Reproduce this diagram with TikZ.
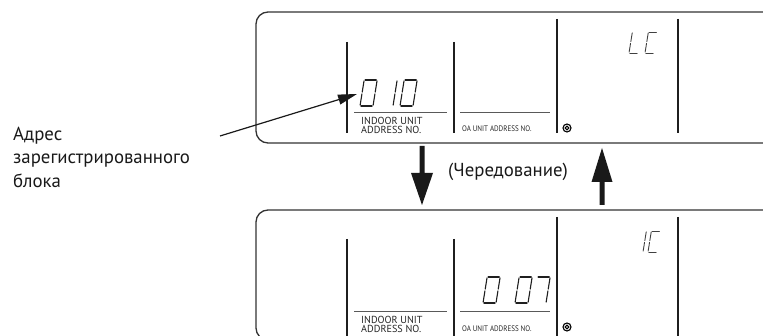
\documentclass[tikz,border=0pt]{standalone}
\usepackage{fontspec}
\setmainfont{PT Sans}
\usepackage{graphicx}
\usetikzlibrary{arrows.meta}
\newcommand\gp{0.9}
\newcommand\sgA{\draw[segsty] (\gp,\dh) -- (\dw-\gp,\dh);}
\newcommand\sgB{\draw[segsty] (\dw,\dh-\gp) -- (\dw,\dh/2+\gp);}
\newcommand\sgC{\draw[segsty] (\dw,\dh/2-\gp) -- (\dw,\gp);}
\newcommand\sgD{\draw[segsty] (\gp,0) -- (\dw-\gp,0);}
\newcommand\sgE{\draw[segsty] (0,\gp) -- (0,\dh/2-\gp);}
\newcommand\sgF{\draw[segsty] (0,\dh/2+\gp) -- (0,\dh-\gp);}
\newcommand\sevseg[6][seg]{%
  \begin{scope}[shift={(#2,#3)},y=1pt,xslant=0.16,segsty/.style={#1}]
    \def\dw{#4}\def\dh{#5}%
    \foreach \s in {#6}{\csname sg\s\endcsname}%
  \end{scope}}
\begin{document}
\begin{tikzpicture}[x=1pt,y=-1pt,
  frame/.style={draw=black!80,line width=1.3pt,rounded corners=12pt},
  divider/.style={draw=black!88,line width=1.4pt},
  uline/.style={draw=black!65,line width=1pt},
  seg/.style={draw=black!88,line width=1.1pt,line cap=round},
  segthin/.style={draw=black!75,line width=0.9pt,line cap=round},
  bigarrow/.style={fill=black!90,draw=none},
  unitlbl/.style={inner sep=0pt,anchor=base west,font=\fontsize{10.2}{10}\selectfont,text=black!85},
  oalbl/.style={inner sep=0pt,anchor=base west,text=black!85},
  mainlbl/.style={inner sep=0pt,font=\fontsize{18.8}{23.5}\selectfont,text=black!90}]
\useasboundingbox (0,0) rectangle (763,336);
\clip (0,0) rectangle (763,336);
% ---------- top panel ----------
\draw[frame] (256,12) rectangle (800,143);
\draw[divider] (347,42) -- (347,133);
\draw[divider] (454,42) -- (454,133);
\draw[divider] (557,19) -- (557,133);
\draw[divider] (678,19) -- (678,133);
\draw[uline] (354,112.5) -- (447,112.5);
\draw[uline] (460,112.5) -- (550,112.5);
\node[unitlbl] (in1a) at (361,124.3) {INDOOR UNIT};
\node[unitlbl] (in1b) at (361,134) {ADDRESS NO.};
\node[oalbl] (oa1) at (462,132) {\scalebox{0.88}[1]{\fontsize{8}{8}\selectfont OA UNIT ADDRESS NO.}};
\draw[line width=1.1pt] (567,128) circle[radius=4pt];
\draw[line width=1.1pt] (567,128) circle[radius=1.9pt];
\sevseg{360}{106}{13}{26}{A,B,C,D,E,F}
\sevseg{380}{106}{13}{26}{B,C}
\sevseg{400}{106}{13}{26}{A,B,C,D,E,F}
\sevseg[segthin]{629}{53}{9}{21}{D,E,F}
\sevseg[segthin]{645}{53}{9}{21}{A,D,E,F}
% ---------- bottom panel ----------
\draw[frame] (256,210) rectangle (800,340);
\draw[divider] (347,239) -- (347,340);
\draw[divider] (454,239) -- (454,340);
\draw[divider] (557,217) -- (557,340);
\draw[divider] (678,217) -- (678,340);
\draw[uline] (354,311.5) -- (447,311.5);
\draw[uline] (460,311.5) -- (550,311.5);
\node[unitlbl] (in2a) at (361,323.3) {INDOOR UNIT};
\node[unitlbl] (in2b) at (361,333) {ADDRESS NO.};
\node[oalbl] (oa2) at (462,332) {\scalebox{0.88}[1]{\fontsize{8}{8}\selectfont OA UNIT ADDRESS NO.}};
\draw[line width=1.1pt] (567,327) circle[radius=4pt];
\draw[line width=1.1pt] (567,327) circle[radius=1.9pt];
\sevseg{483}{303}{13}{26}{A,B,C,D,E,F}
\sevseg{515}{303}{13}{26}{A,B,C,D,E,F}
\sevseg{533}{303}{13}{26}{A,B,C}
\sevseg[segthin]{634}{252}{9}{21}{B,C}
\sevseg[segthin]{648}{252}{9}{21}{A,D,E,F}
% ---------- alternation arrows ----------
\fill[bigarrow] (419.5,146) -- (424.5,146) -- (424.5,173) -- (433,173) -- (422,205) -- (411,173) -- (419.5,173) -- cycle;
\fill[bigarrow] (602,148) -- (612.5,182) -- (604.5,182) -- (604.5,205) -- (599.5,205) -- (599.5,182) -- (591.5,182) -- cycle;
\node[mainlbl,anchor=west] (alt) at (448,172) {(Чередование)};
% ---------- left label and leader ----------
\node[mainlbl,anchor=west,align=left] (reg) at (13,157) {Адрес\\зарегистрированного\\блока};
\coordinate (leadstart) at (220,136);
\coordinate (leadtip) at (357,94);
\draw[line width=1.2pt,black!90,-{Triangle[length=19pt,width=10pt]}] (leadstart) -- (leadtip);
\end{tikzpicture}
\end{document}
